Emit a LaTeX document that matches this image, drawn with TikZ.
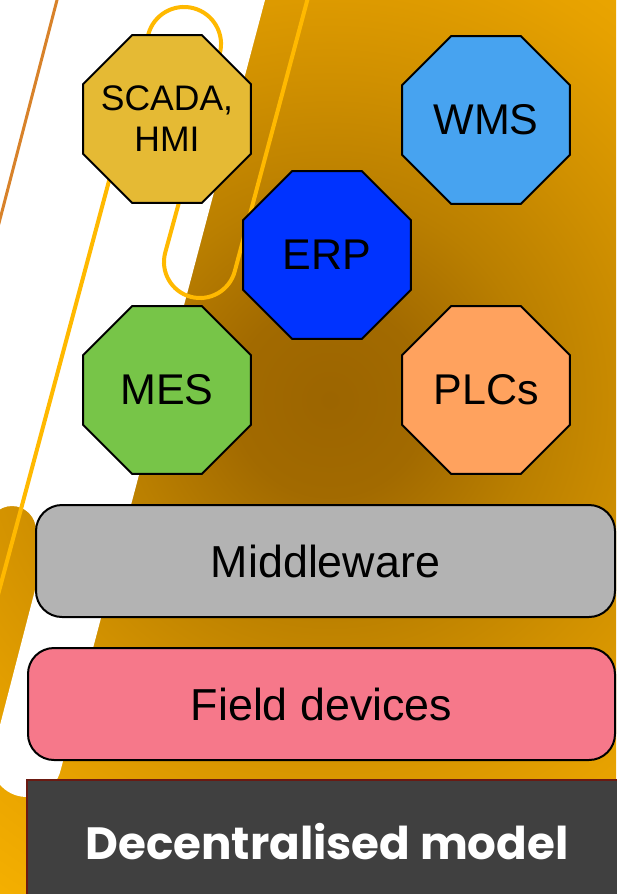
\documentclass[tikz,border=0pt]{standalone}
\usepackage{fontspec}
\setmainfont{Liberation Sans}
\newfontfamily\popfont{Poppins}
\usetikzlibrary{shapes.geometric}
\definecolor{bgA}{HTML}{9C6500}
\definecolor{bgAA}{HTML}{A26A00}
\definecolor{bgB}{HTML}{BA7F00}
\definecolor{bgC}{HTML}{D09000}
\definecolor{bgD}{HTML}{E6A100}
\definecolor{bgE}{HTML}{F5B000}
\definecolor{scadac}{HTML}{E5BA34}
\definecolor{wmsc}{HTML}{47A3F0}
\definecolor{erpc}{HTML}{0033FF}
\definecolor{mesc}{HTML}{77C548}
\definecolor{plcc}{HTML}{FFA25E}
\definecolor{midgray}{HTML}{B3B3B3}
\definecolor{fieldpink}{HTML}{F6788A}
\definecolor{darkbox}{HTML}{404040}
\definecolor{darkred}{HTML}{6B1A12}
\definecolor{yline}{HTML}{FFB900}
\definecolor{oline}{HTML}{D8822A}
\pgfdeclareradialshading{bgrad}{\pgfpoint{0bp}{0bp}}{color(0bp)=(bgA); color(4bp)=(bgAA); color(8.5bp)=(bgB); color(13.5bp)=(bgC); color(19bp)=(bgD); color(25bp)=(bgE); color(50bp)=(bgE)}
\tikzset{
  oct/.style={regular polygon, regular polygon sides=8, minimum size=181.8pt, inner sep=0pt,
    draw=black, line width=2pt, text=black, font=\fontsize{43}{48}\selectfont},
  bar/.style={draw=black, line width=2pt, rounded corners=26pt, minimum height=112pt,
    inner sep=0pt, text=black, font=\fontsize{44.8}{50}\selectfont},
  yellowpath/.style={draw=yline, line width=4pt},
  orangepath/.style={draw=oline, line width=3pt}
}
\begin{document}
\begin{tikzpicture}[x=1pt,y=1pt]
\useasboundingbox (0,0) rectangle (616,-894);
\begin{scope}
\clip (0,0) rectangle (616,-894);
\shade[shading=bgrad] (-270,200) rectangle (930,-1000);
\fill[white] (-12,12) -- (268.2,12) -- (60.4,-771) arc[start angle=-15,end angle=-195,radius=35]
  -- (35,-590) -- (36,-530) arc[start angle=0,end angle=180,radius=24] -- cycle;
\draw[orangepath] (59.6,10) -- (-5.4,-240);
\draw[yellowpath] (-5,-606) -- (148.3,-34.4) arc[start angle=165,end angle=-15,radius=37]
  -- (165.2,-252.7) arc[start angle=165,end angle=345,radius=36] -- (310,10);
\end{scope}
\node[oct, fill=scadac, align=center, inner sep=-30pt, font=\fontsize{35.5}{41}\selectfont] (scada) at (167,-119) {SCADA,\\HMI};
\node[oct, fill=wmsc] (wms) at (486,-120) {WMS};
\node[oct, fill=erpc] (erp) at (327,-255) {ERP};
\node[oct, fill=mesc] (mes) at (167,-390) {MES};
\node[oct, fill=plcc] (plc) at (486,-390) {PLCs};
\node[bar, fill=midgray, minimum width=579pt] (mw) at (325.5,-561) {Middleware};
\node[bar, fill=fieldpink, minimum width=587pt] (fd) at (321.5,-704) {Field devices};
\node[draw=darkred, line width=2.5pt, fill=darkbox, minimum width=600pt, minimum height=124pt,
  inner sep=0pt, text=white, font=\popfont\bfseries\fontsize{45.2}{52}\selectfont] (dm) at (327,-842) {Decentralised model};
\end{tikzpicture}
\end{document}
